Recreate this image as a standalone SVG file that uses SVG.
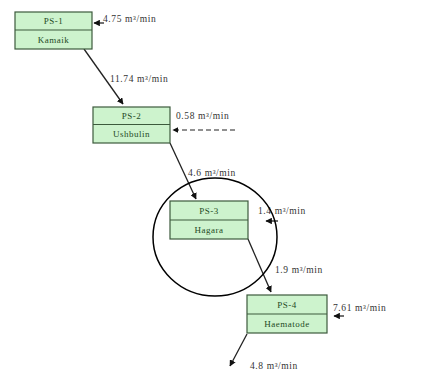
<svg xmlns="http://www.w3.org/2000/svg" width="422" height="379" viewBox="0 0 422 379">
  <style>
    .box { fill: #cdf3cd; stroke: #3c5a3c; stroke-width: 1.2; }
    .div { stroke: #3c5a3c; stroke-width: 1.2; }
    .bt { font-family: "Liberation Serif", serif; font-size: 9px; fill: #1f4a1f; text-anchor: middle; letter-spacing: 0.5px; }
    .lbl { font-family: "Liberation Serif", serif; font-size: 9.5px; fill: #333333; letter-spacing: 0.6px; }
    .conn { stroke: #222; stroke-width: 1.3; fill: none; }
    .dash { stroke: #222; stroke-width: 1.2; fill: none; stroke-dasharray: 5 3; }
  </style>
  <defs>
    <marker id="arr" viewBox="0 0 10 10" refX="9" refY="5" markerWidth="5" markerHeight="5" orient="auto">
      <path d="M0,0 L10,5 L0,10 z" fill="#111"/>
    </marker>
  </defs>
  <rect width="422" height="379" fill="#ffffff"/>

  <g id="connectors">
    <line class="conn" x1="84" y1="49" x2="123" y2="104" marker-end="url(#arr)"/>
    <line class="conn" x1="170" y1="143" x2="196" y2="199" marker-end="url(#arr)"/>
    <line class="conn" x1="248" y1="239" x2="271" y2="292" marker-end="url(#arr)"/>
    <line class="conn" x1="247" y1="334" x2="230" y2="366" marker-end="url(#arr)"/>
    <line class="conn" x1="104" y1="23" x2="94" y2="23" marker-end="url(#arr)"/>
    <line class="dash" x1="235" y1="130" x2="173" y2="130" marker-end="url(#arr)"/>
    <line class="conn" x1="278" y1="221" x2="266" y2="221" marker-end="url(#arr)"/>
    <line class="conn" x1="344" y1="316" x2="334" y2="316" marker-end="url(#arr)"/>
  </g>

  <g id="labels">
    <text class="lbl" x="103" y="22">4.75 m³/min</text>
    <text class="lbl" x="110" y="82">11.74 m³/min</text>
    <text class="lbl" x="176" y="119">0.58 m³/min</text>
    <text class="lbl" x="188" y="176">4.6 m³/min</text>
    <text class="lbl" x="258" y="214">1.4 m³/min</text>
    <text class="lbl" x="275" y="273">1.9 m³/min</text>
    <text class="lbl" x="333" y="311">7.61 m³/min</text>
    <text class="lbl" x="250" y="369">4.8 m³/min</text>
  </g>

  <g id="PS-1">
    <rect class="box" x="15" y="12" width="77" height="37"/>
    <line class="div" x1="15" y1="30" x2="92" y2="30"/>
    <text class="bt" x="53.5" y="24">PS-1</text>
    <text class="bt" x="53.5" y="43">Kamaik</text>
  </g>

  <g id="PS-2">
    <rect class="box" x="93" y="107" width="77" height="36"/>
    <line class="div" x1="93" y1="124.5" x2="170" y2="124.5"/>
    <text class="bt" x="131.5" y="119">PS-2</text>
    <text class="bt" x="131.5" y="137">Ushbulin</text>
  </g>

  <g id="PS-3">
    <rect class="box" x="170" y="201" width="78" height="38"/>
    <line class="div" x1="170" y1="220" x2="248" y2="220"/>
    <text class="bt" x="209" y="214">PS-3</text>
    <text class="bt" x="209" y="233">Hagara</text>
  </g>

  <g id="PS-4">
    <rect class="box" x="247" y="295" width="80" height="38"/>
    <line class="div" x1="247" y1="314" x2="327" y2="314"/>
    <text class="bt" x="287" y="308">PS-4</text>
    <text class="bt" x="287" y="327">Haematode</text>
  </g>

  <g id="highlight">
    <ellipse cx="215" cy="237" rx="62" ry="59" fill="none" stroke="#000" stroke-width="1.5"/>
  </g>
</svg>
